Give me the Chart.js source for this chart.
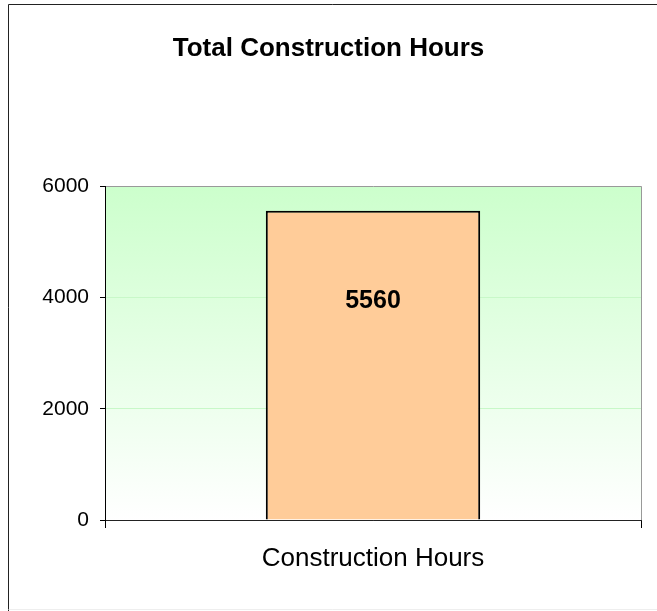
<!DOCTYPE html>
<html>
<head>
<meta charset="utf-8">
<script src="https://cdn.jsdelivr.net/npm/chart.js@4/dist/chart.umd.min.js"></script>
<style>
  html, body { margin: 0; padding: 0; background: #fff; }
  #wrap { width: 657px; height: 611px; position: relative; }
</style>
</head>
<body>
<div id="wrap"><canvas id="c" width="657" height="611"></canvas></div>
<script>
const categories = ["Construction Hours"];
const hoursValues = [5560];
const yTickValues = [0, 2000, 4000, 6000];
const chartTitle = "Total Construction Hours";

Chart.defaults.font.family = "'Liberation Sans', Arial, sans-serif";
Chart.defaults.color = "#000";

const framePlugin = {
  id: "frame",
  beforeDraw(chart) {
    const ctx = chart.ctx;
    const a = chart.chartArea;
    ctx.save();
    ctx.fillStyle = "#fff";
    ctx.fillRect(0, 0, chart.width, chart.height);
    const g = ctx.createLinearGradient(0, a.top, 0, a.bottom);
    g.addColorStop(0, "#CCFFCC");
    g.addColorStop(1, "#FFFFFF");
    ctx.fillStyle = g;
    ctx.fillRect(a.left, a.top, a.right - a.left, a.bottom - a.top);
    ctx.strokeStyle = "#222";
    ctx.lineWidth = 1;
    ctx.beginPath();
    ctx.moveTo(8.5, chart.height);
    ctx.lineTo(8.5, 4.5);
    ctx.lineTo(chart.width, 4.5);
    ctx.stroke();
    ctx.strokeStyle = "#eee";
    ctx.beginPath();
    ctx.moveTo(8.5, chart.height - 1.5);
    ctx.lineTo(chart.width, chart.height - 1.5);
    ctx.stroke();
    ctx.restore();
  },
  afterDatasetsDraw(chart) {
    const ctx = chart.ctx;
    const a = chart.chartArea;
    ctx.save();
    ctx.strokeStyle = "#999";
    ctx.lineWidth = 1;
    ctx.beginPath();
    ctx.moveTo(Math.round(a.right) + 0.5, a.top);
    ctx.lineTo(Math.round(a.right) + 0.5, a.bottom);
    ctx.stroke();
    const meta = chart.getDatasetMeta(0);
    ctx.fillStyle = "#000";
    ctx.font = "bold 25px 'Liberation Sans', Arial, sans-serif";
    ctx.textAlign = "center";
    ctx.textBaseline = "middle";
    meta.data.forEach((bar, i) => {
      ctx.fillText(String(hoursValues[i]), bar.x, bar.y + 90);
    });
    ctx.restore();
  }
};

new Chart(document.getElementById("c"), {
  type: "bar",
  data: {
    labels: categories,
    datasets: [{
      label: "Construction Hours",
      data: hoursValues,
      backgroundColor: "#FFCC99",
      borderColor: "#000",
      borderWidth: 2,
      barPercentage: 0.4,
      categoryPercentage: 1.0
    }]
  },
  options: {
    responsive: false,
    animation: false,
    layout: { padding: { left: 16, right: 16, top: 0, bottom: 0 } },
    plugins: {
      legend: { display: false },
      tooltip: { enabled: false },
      title: {
        display: true,
        text: chartTitle,
        color: "#000",
        font: { size: 26, weight: "bold" },
        padding: { top: 33, bottom: 122 }
      }
    },
    scales: {
      x: {
        offset: true,
        grid: {
          display: true,
          drawOnChartArea: false,
          drawTicks: true,
          tickLength: 8,
          color: "#000",
          offset: true
        },
        border: { display: true, color: "#222", width: 1 },
        ticks: { font: { size: 26 }, color: "#000", padding: 15 },
        afterFit(scale) { scale.height = 91; }
      },
      y: {
        min: 0,
        max: 6000,
        afterBuildTicks(scale) { scale.ticks = yTickValues.map(v => ({ value: v })); },
        grid: {
          drawTicks: true,
          tickLength: 5,
          tickColor: "#000",
          color: (c) => {
            const v = c.tick ? c.tick.value : null;
            if (v === 6000) return "#999";
            if (v === 0) return "#222";
            return "#C8F8C8";
          }
        },
        border: { display: true, color: "#000", width: 1 },
        ticks: {
          font: { size: 21 },
          color: "#000",
          padding: 11,
          callback: (v) => String(v)
        },
        afterFit(scale) { scale.width = 89; }
      }
    }
  },
  plugins: [framePlugin]
});
</script>
</body>
</html>
